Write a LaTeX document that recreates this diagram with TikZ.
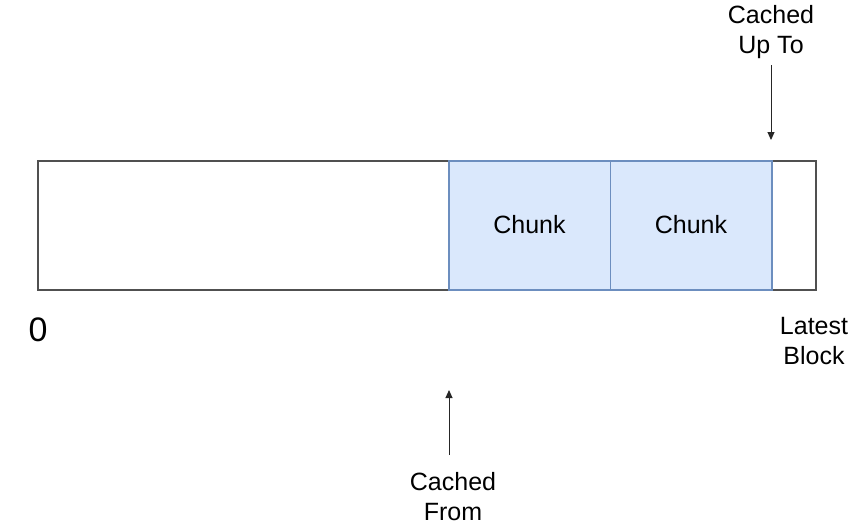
\documentclass[tikz,border=0pt]{standalone}
\usepackage{fontspec}
\setmainfont{Liberation Sans}
\usetikzlibrary{arrows.meta}
\definecolor{chunkfill}{HTML}{DAE8FC}
\definecolor{chunkline}{HTML}{6C8EBF}
\definecolor{boxline}{HTML}{505050}
\begin{document}
\begin{tikzpicture}[x=1pt,y=-1pt,
  whitebox/.style={draw=boxline,line width=1.5pt,fill=white},
  chunkbox/.style={draw=chunkline,line width=1.2pt,fill=chunkfill},
  lbl/.style={font=\fontsize{25}{30}\selectfont,align=center,inner sep=0pt},
  arr/.style={draw=black!85,line width=1pt,-{Triangle[length=8pt,width=7pt]}}]
\useasboundingbox (0,0) rectangle (851,531);
\draw[whitebox] (38,161) rectangle (449,290);
\draw[whitebox] (772,161) rectangle (816,290);
\draw[chunkbox] (449,161) rectangle (610.5,290);
\draw[chunkbox] (610.5,161) rectangle (772,290);
\node[lbl] (t1) at (529.5,225) {Chunk};
\node[lbl] (t2) at (691,225) {Chunk};
\node[lbl,font=\fontsize{34}{40}\selectfont] (zero) at (38,330) {0};
\node[lbl] (upto) at (771,32) {Cached\\Up To};
\node[lbl] (latest) at (814,341) {Latest\\Block};
\node[lbl] (from) at (453,497) {Cached\\From};
\coordinate (uptotail) at (771,65);
\coordinate (uptotip) at (771,140);
\coordinate (fromtail) at (449,455);
\coordinate (fromtip) at (449,390);
\draw[arr] (uptotail) -- (uptotip);
\draw[arr] (fromtail) -- (fromtip);
\end{tikzpicture}
\end{document}
